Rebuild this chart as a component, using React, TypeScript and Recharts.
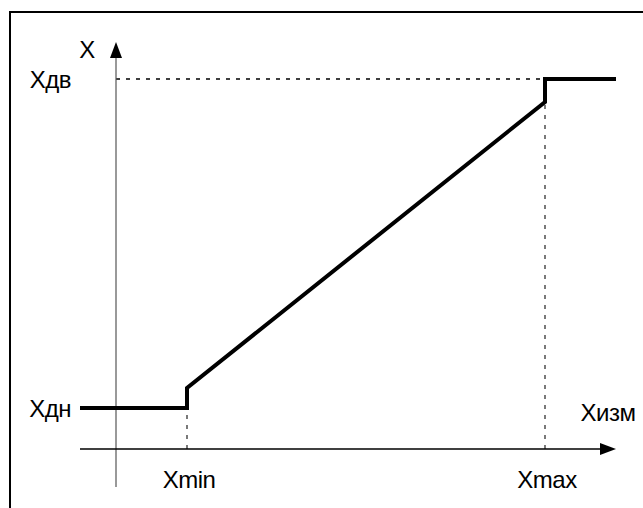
import React from "react";
import {
  ComposedChart,
  Line,
  XAxis,
  YAxis,
  ReferenceLine,
  ReferenceDot,
} from "recharts";

// Units: abstract scale, origin where the axes cross
const xAxisRange = [-3.6, 50];
const yAxisRange = [-3.8, 40.7];

const xMin = 7.1;
const xMax = 42.9;
const yDn = 4.1;
const yDv = 37.0;
const yAtXmin = 6.1;
const yAtXmax = 34.7;

const transferX = [-3.6, xMin, xMin, xMax, xMax, 50];
const transferY = [yDn, yDn, yAtXmin, yAtXmax, yDv, yDv];

const yTickValues = [yDn, yDv];
const yTickLabels = ["Xдн", "Xдв"];

const textLabels = [
  { text: "X", x: -2.9, y: 40.0 },
  { text: "Xmin", x: 7.3, y: -3.0 },
  { text: "Xmax", x: 43.1, y: -3.0 },
  { text: "Xизм", x: 49.2, y: 3.7 },
];

const data = transferX.map((x, i) => ({ x, y: transferY[i] }));

const FONT = "'Liberation Sans', Arial, sans-serif";
const FS = 24;

const TextShape = (text: string) => (p: any) => (
  <text
    x={p.cx}
    y={p.cy}
    textAnchor="middle"
    dominantBaseline="central"
    fontFamily={FONT}
    fontSize={FS}
    letterSpacing={-0.5}
    fill="#000"
  >
    {text}
  </text>
);

const ArrowUp = (p: any) => (
  <polygon
    points={`${p.cx},${p.cy} ${p.cx - 6},${p.cy + 16} ${p.cx + 6},${p.cy + 16}`}
    fill="#000"
  />
);

const ArrowRight = (p: any) => (
  <polygon
    points={`${p.cx},${p.cy} ${p.cx - 16},${p.cy - 6} ${p.cx - 16},${p.cy + 6}`}
    fill="#000"
  />
);

export default function App() {
  return (
    <div style={{ position: "absolute", left: 0, top: 0, width: 643, height: 508, background: "#fff", overflow: "hidden" }}>
      <div
        style={{
          position: "absolute",
          left: 9,
          top: 11,
          width: 640,
          height: 500,
          borderTop: "2px solid #000",
          borderLeft: "2px solid #000",
          boxSizing: "border-box",
        }}
      />
      <div style={{ position: "absolute", left: 0, top: 0 }}>
        <ComposedChart
          width={643}
          height={508}
          data={data}
          margin={{ top: 42, right: 27, bottom: 21, left: 0 }}
        >
          <XAxis type="number" dataKey="x" domain={xAxisRange} hide allowDataOverflow />
          <YAxis
            type="number"
            domain={yAxisRange}
            ticks={yTickValues}
            interval={0}
            width={80}
            axisLine={false}
            tickLine={false}
            tickSize={0}
            tickMargin={9}
            allowDataOverflow
            tickFormatter={(v: number) => yTickLabels[yTickValues.indexOf(v)]}
            tick={{ fill: "#000", fontSize: FS, fontFamily: FONT, letterSpacing: -0.5 }}
          />
          {/* dashed guides */}
          <ReferenceLine
            segment={[{ x: 0, y: yDv }, { x: xMax, y: yDv }]}
            stroke="#000"
            strokeWidth={1.3}
            strokeDasharray="4 6"
          />
          <ReferenceLine
            segment={[{ x: xMin, y: 0 }, { x: xMin, y: yDn }]}
            stroke="#333"
            strokeWidth={1.3}
            strokeDasharray="4 6"
          />
          <ReferenceLine
            segment={[{ x: xMax, y: 0 }, { x: xMax, y: yAtXmax }]}
            stroke="#333"
            strokeWidth={1.3}
            strokeDasharray="4 6"
          />
          {/* axes */}
          <ReferenceLine
            segment={[{ x: 0, y: yAxisRange[0] }, { x: 0, y: 39.5 }]}
            stroke="#555"
            strokeWidth={1.2}
          />
          <ReferenceLine
            segment={[{ x: xAxisRange[0], y: 0 }, { x: 48.6, y: 0 }]}
            stroke="#000"
            strokeWidth={1.4}
          />
          <ReferenceDot x={0} y={yAxisRange[1]} r={0} shape={ArrowUp} ifOverflow="visible" />
          <ReferenceDot x={xAxisRange[1]} y={0} r={0} shape={ArrowRight} ifOverflow="visible" />
          <Line
            dataKey="y"
            type="linear"
            stroke="#000"
            strokeWidth={4}
            strokeLinejoin="miter"
            dot={false}
            activeDot={false}
            isAnimationActive={false}
          />
          {textLabels.map((t) => (
            <ReferenceDot
              key={t.text}
              x={t.x}
              y={t.y}
              r={0}
              shape={TextShape(t.text)}
              ifOverflow="visible"
            />
          ))}
        </ComposedChart>
      </div>
    </div>
  );
}
